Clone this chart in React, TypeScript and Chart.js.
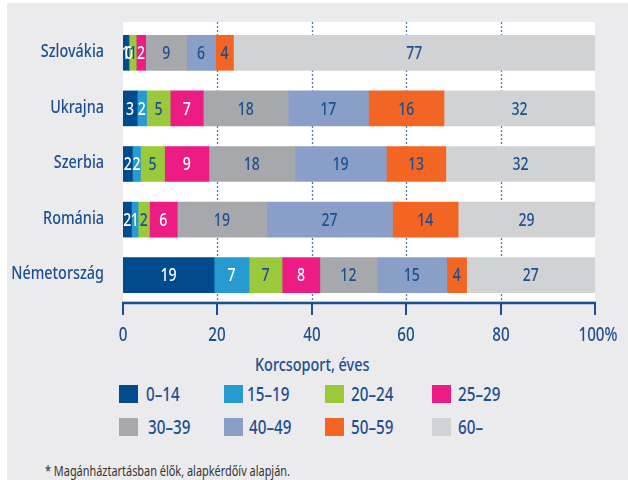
import React, { useEffect, useRef } from "react";
import { Chart, registerables } from "chart.js";

Chart.register(...registerables);

const countries = ["Szlovákia", "Ukrajna", "Szerbia", "Románia", "Németország"];
const ageGroups = ["0–14", "15–19", "20–24", "25–29", "30–39", "40–49", "50–59", "60–"];
const share0_14 = [1.2, 3, 2, 1.8, 19.3];
const share15_19 = [0.2, 2, 1.7, 1.4, 7.4];
const share20_24 = [1.4, 5, 5.1, 2.4, 7];
const share25_29 = [2, 7, 9.4, 5.9, 8];
const share30_39 = [8.7, 18, 18.2, 18.9, 12.1];
const share40_49 = [6.1, 17, 19.4, 26.7, 14.8];
const share50_59 = [3.8, 16, 12.6, 13.9, 4.2];
const share60plus = [76.6, 32, 31.6, 29, 27.2];
const seriesValues = [share0_14, share15_19, share20_24, share25_29, share30_39, share40_49, share50_59, share60plus];
const xAxisTitle = "Korcsoport, éves";
const footnote = "* Magánháztartásban élők, alapkérdőív alapján.";

const COLORS = ["#004B8D", "#259BD2", "#9BC93C", "#EC1C84", "#A7A8AB", "#8A9FC8", "#F26522", "#D1D2D4"];
const LABEL_COLORS = ["#FFFFFF", "#FFFFFF", "#1B4F8F", "#FFFFFF", "#1B4F8F", "#1B4F8F", "#1B4F8F", "#1B4F8F"];
const BLUE = "#1B4F8F";
const FONT = "'Noto Sans', sans-serif";
const WEIGHT = 500;
const SQUEEZE = 0.8;

const LEGEND_BOX_LEFT = [119, 224, 325, 432];
const LEGEND_TEXT_LEFT = [[146, 247, 351, 458], [148, 249, 351, 458]];
const LEGEND_ROW_TOP = [385, 418];

function drawText(ctx: CanvasRenderingContext2D, text: string, x: number, y: number, align: CanvasTextAlign, sx: number) {
  ctx.save();
  ctx.translate(x, y);
  ctx.scale(sx, 1);
  ctx.textAlign = align;
  ctx.textBaseline = "middle";
  ctx.fillText(text, 0, 0);
  ctx.restore();
}

const plotPlugin = {
  id: "plotDecor",
  beforeDatasetsDraw(chart: any) {
    const { ctx, chartArea, scales } = chart;
    const { left, right, top, bottom } = chartArea;
    const x = scales.x;
    ctx.save();
    ctx.fillStyle = "#FFFFFF";
    ctx.fillRect(left, top - 3, right - left, bottom - 2 - (top - 3));
    ctx.strokeStyle = "#5479B0";
    ctx.lineWidth = 1.3;
    ctx.setLineDash([2, 2]);
    x.ticks.forEach((t: any) => {
      if (t.value === x.min || t.value === x.max) return;
      const px = Math.round(x.getPixelForValue(t.value)) + 0.5;
      ctx.beginPath();
      ctx.moveTo(px, top - 3);
      ctx.lineTo(px, bottom);
      ctx.stroke();
    });
    ctx.restore();
  },
  afterDatasetsDraw(chart: any) {
    const { ctx, chartArea, scales } = chart;
    const { left, right, bottom } = chartArea;
    const x = scales.x;
    const y = scales.y;
    ctx.save();
    // data labels
    ctx.font = `${WEIGHT} 18px ${FONT}`;
    chart.data.datasets.forEach((ds: any, di: number) => {
      const meta = chart.getDatasetMeta(di);
      meta.data.forEach((bar: any, i: number) => {
        const { x: bx, base, y: by } = bar.getProps(["x", "base", "y"], true);
        ctx.fillStyle = LABEL_COLORS[di];
        drawText(ctx, String(Math.round(ds.data[i])), (bx + base) / 2, by + 1, "center", 0.78);
      });
    });
    // axis line and ticks
    ctx.strokeStyle = BLUE;
    ctx.setLineDash([]);
    ctx.lineWidth = 2.5;
    ctx.beginPath();
    ctx.moveTo(left - 1, bottom);
    ctx.lineTo(right + 1, bottom);
    ctx.stroke();
    ctx.lineWidth = 2;
    ctx.fillStyle = BLUE;
    ctx.font = `${WEIGHT} 19px ${FONT}`;
    x.ticks.forEach((t: any) => {
      const px = Math.round(x.getPixelForValue(t.value));
      ctx.beginPath();
      ctx.moveTo(px, bottom - 1);
      ctx.lineTo(px, bottom + 12);
      ctx.stroke();
      const lbl = t.value === 100 ? "100%" : String(t.value);
      drawText(ctx, lbl, px + (t.value === 100 ? 3 : 0), bottom + 33, "center", SQUEEZE);
    });
    // category labels
    ctx.font = `${WEIGHT} 18px ${FONT}`;
    chart.data.labels.forEach((lbl: string, i: number) => {
      const py = y.getPixelForValue(i);
      drawText(ctx, lbl, left - 19, py - 1, "right", SQUEEZE);
    });
    ctx.restore();
  },
};

export default function App() {
  const canvasRef = useRef<HTMLCanvasElement | null>(null);

  useEffect(() => {
    if (!canvasRef.current) return;
    const chart = new Chart(canvasRef.current, {
      type: "bar",
      data: {
        labels: countries,
        datasets: ageGroups.map((g, i) => ({
          label: g,
          data: seriesValues[i],
          backgroundColor: COLORS[i],
          borderWidth: 0,
          barThickness: 35,
        })),
      },
      options: {
        indexAxis: "y",
        responsive: false,
        animation: false,
        devicePixelRatio: 1,
        layout: { padding: { left: 0, right: 33, top: 25, bottom: 0 } },
        plugins: { legend: { display: false }, tooltip: { enabled: false }, title: { display: false } },
        scales: {
          x: {
            stacked: true,
            min: 0,
            max: 100,
            grid: { display: false, drawTicks: false },
            border: { display: false },
            ticks: { stepSize: 20, display: false },
            afterFit: (s: any) => {
              s.height = 47;
            },
          },
          y: {
            stacked: true,
            grid: { display: false, drawTicks: false },
            border: { display: false },
            ticks: { display: false },
            afterFit: (s: any) => {
              s.width = 123;
            },
          },
        },
      },
      plugins: [plotPlugin],
    });
    return () => chart.destroy();
  }, []);

  const squeeze: React.CSSProperties = { display: "inline-block", transform: `scaleX(${SQUEEZE})`, transformOrigin: "left center", whiteSpace: "nowrap" };

  return (
    <div style={{ position: "absolute", left: 0, top: 0, width: 628, height: 480, background: "#FFFFFF", overflow: "hidden", fontFamily: FONT }}>
      <div style={{ position: "absolute", left: 7, top: 3, width: 621, height: 477, background: "#EBEBED" }} />
      <canvas ref={canvasRef} width={628} height={350} style={{ position: "absolute", left: 0, top: 0, width: 628, height: 350 }} />
      <div style={{ position: "absolute", left: 255, top: 353, color: BLUE, fontSize: 18, fontWeight: WEIGHT, lineHeight: "22px" }}>
        <span style={squeeze}>{xAxisTitle}</span>
      </div>
      {ageGroups.map((g, i) => {
        const row = Math.floor(i / 4);
        const col = i % 4;
        return (
          <React.Fragment key={g}>
            <div style={{ position: "absolute", left: LEGEND_BOX_LEFT[col], top: LEGEND_ROW_TOP[row], width: 19, height: 18, background: COLORS[i] }} />
            <div style={{ position: "absolute", left: LEGEND_TEXT_LEFT[row][col], top: LEGEND_ROW_TOP[row] - 3, height: 24, lineHeight: "24px", color: BLUE, fontSize: 19, fontWeight: WEIGHT }}>
              <span style={squeeze}>{g}</span>
            </div>
          </React.Fragment>
        );
      })}
      <div style={{ position: "absolute", left: 45, top: 463, color: "#333333", fontSize: 14, lineHeight: "16px" }}>
        <span style={{ ...squeeze, transform: "scaleX(0.78)" }}>{footnote}</span>
      </div>
    </div>
  );
}
